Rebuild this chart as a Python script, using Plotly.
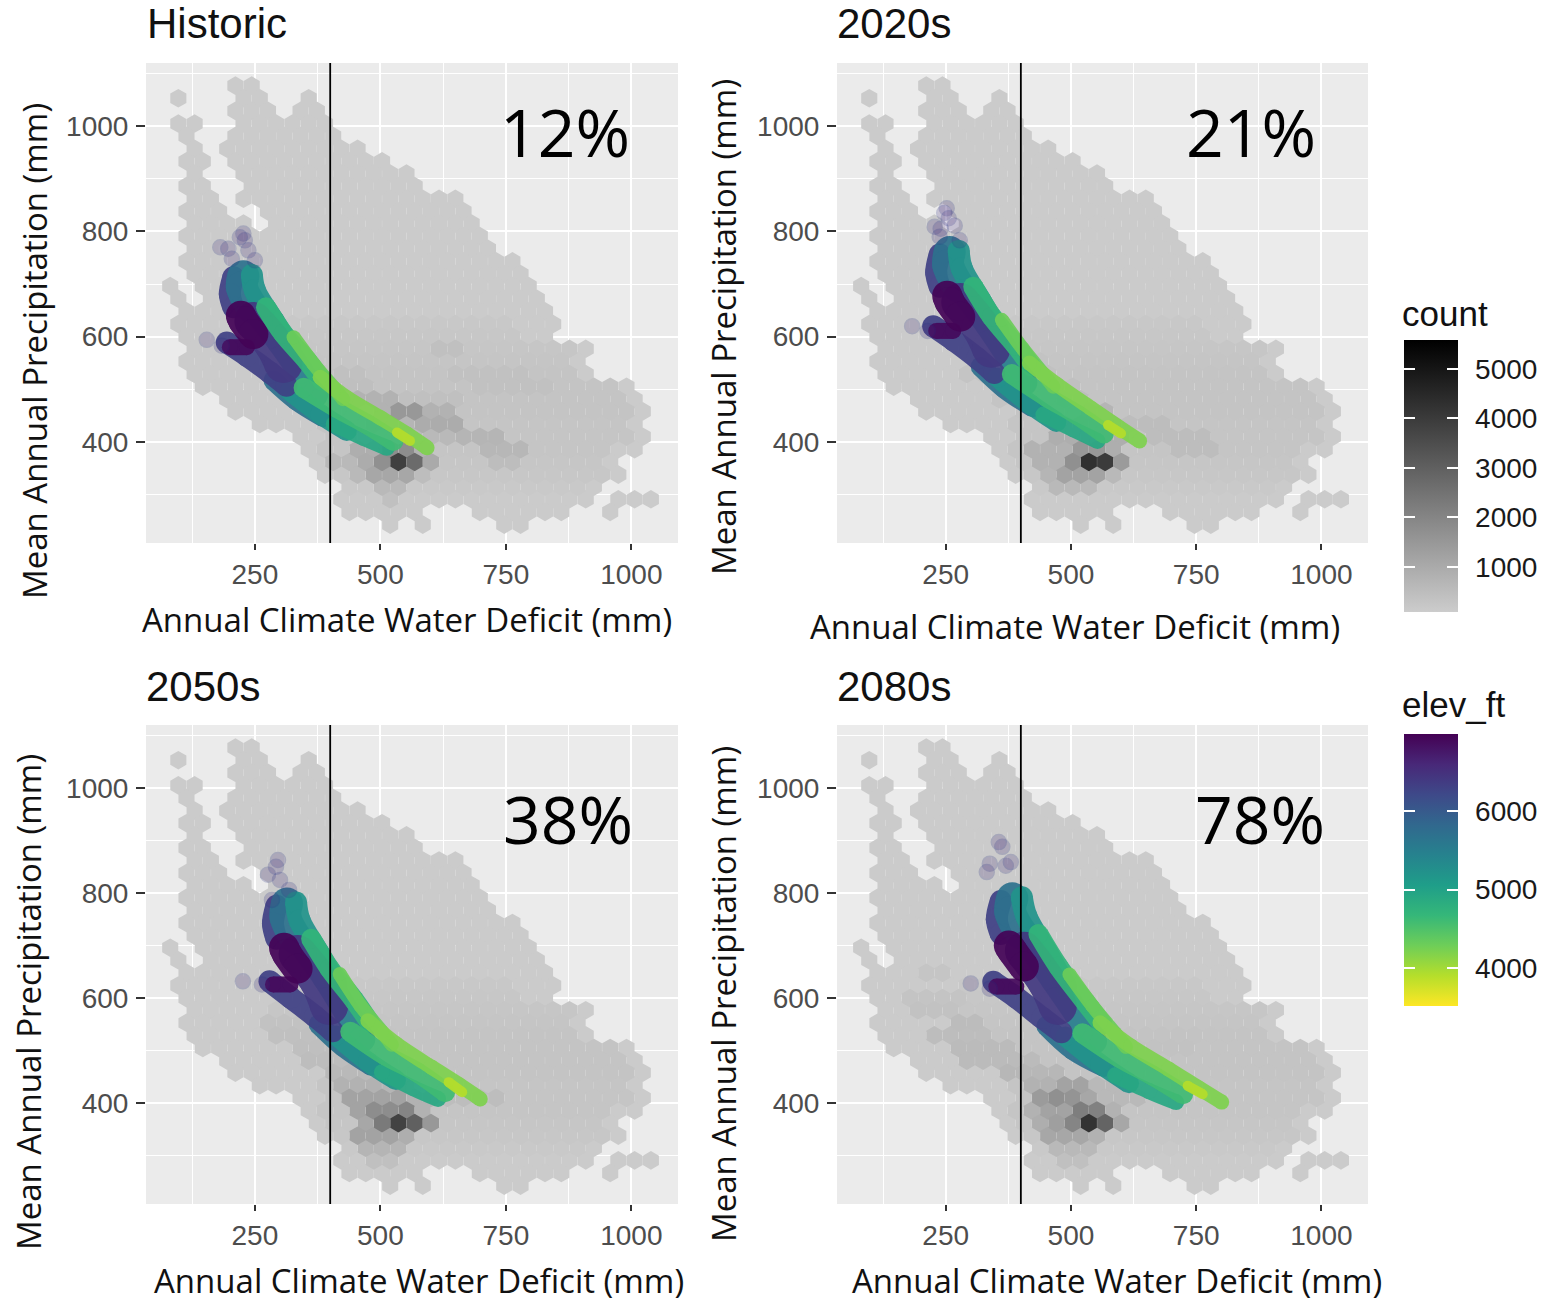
import plotly.graph_objects as go
from plotly.colors import sample_colorscale

W, H = 1565, 1303
X_TICKS = [250, 500, 750, 1000]
X_MINOR = [125, 375, 625, 875]
Y_TICKS = [400, 600, 800, 1000]
Y_MINOR = [300, 500, 700, 900, 1100]
CUTOFF = 400
PANEL_TITLES = ["Historic", "2020s", "2050s", "2080s"]
PERCENTS = ["12%", "21%", "38%", "78%"]
X_TITLE = "Annual Climate Water Deficit (mm)"
Y_TITLE = "Mean Annual Precipitation (mm)"
COUNT_TICKS = [1000, 2000, 3000, 4000, 5000]
ELEV_TICKS = [4000, 5000, 6000]

# Hexbin rows: y of the row and the runs of occupied columns
HEX_ROW_Y = [1077, 1053, 1029, 1005, 981, 957, 933, 910, 886, 862, 838, 815, 791, 767, 743, 719, 696, 672,
             648, 624, 600, 577, 553, 529, 505, 481, 458, 434, 410, 386, 362, 338, 315, 291, 267, 243]
HEX_RUNS = [
    [[3, 4]], [[0, 0], [4, 5], [8, 8]], [[3, 5], [7, 8]], [[0, 1], [4, 9]], [[0, 0], [3, 9]], [[1, 1], [3, 11]],
    [[0, 1], [3, 12]], [[1, 1], [4, 14]], [[0, 1], [4, 14]], [[1, 2], [4, 17]], [[0, 2], [5, 17]],
    [[1, 4], [6, 18]], [[0, 18]], [[1, 19]], [[0, 20]], [[1, 21]], [[-1, -1], [1, 21]], [[0, 0], [2, 22]],
    [[0, 22]], [[0, 23]], [[0, 22]], [[1, 25]], [[0, 24]], [[1, 25]], [[1, 27]], [[3, 28]], [[3, 28]],
    [[5, 28]], [[7, 28]], [[8, 28]], [[8, 26]], [[9, 27]], [[10, 25]], [[10, 25], [27, 29]],
    [[10, 14], [18, 23], [26, 26]], [[13, 13], [15, 15], [20, 21]],
]
HEX_DX = 32.47
HEX_X0_ODD = 97.4
HEX_X0_EVEN = 113.7
BASE_COUNT = 110
# (row, first column, last column, count)
COMMON_COUNTS = [(19, 6, 20, 200), (20, 6, 20, 220), (21, 6, 24, 250), (22, 6, 23, 280), (23, 6, 24, 300),
                 (24, 8, 26, 300), (25, 8, 27, 300), (26, 9, 27, 300), (27, 9, 27, 280), (28, 9, 27, 280),
                 (29, 9, 26, 280), (30, 9, 25, 250), (31, 10, 26, 220), (32, 10, 24, 180)]
COUNTS_HIST = [(21, 16, 17, 420), (23, 10, 11, 420), (24, 9, 11, 450), (23, 17, 21, 380), (24, 18, 22, 380),
               (25, 11, 13, 800), (25, 14, 17, 400), (26, 13, 14, 1500), (26, 12, 12, 800), (26, 15, 16, 800),
               (27, 15, 17, 950), (27, 12, 14, 700), (28, 14, 16, 600), (28, 17, 19, 700), (29, 19, 21, 650),
               (30, 19, 20, 500), (29, 11, 12, 900), (29, 13, 14, 1800), (29, 15, 15, 800), (30, 9, 10, 600),
               (30, 11, 11, 950), (30, 12, 12, 1700), (30, 13, 13, 3900), (30, 14, 14, 2700), (30, 15, 15, 1000),
               (31, 11, 11, 600), (31, 12, 14, 1100), (31, 15, 15, 500), (32, 12, 13, 600), (33, 13, 13, 400)]
COUNTS_2020 = [(26, 13, 14, 700), (25, 12, 13, 500), (27, 12, 15, 800), (27, 16, 18, 500), (28, 11, 15, 900),
               (28, 17, 20, 500), (29, 10, 12, 800), (29, 13, 14, 1500), (29, 15, 15, 900), (29, 19, 21, 500),
               (30, 10, 11, 800), (30, 12, 12, 1700), (30, 13, 13, 4300), (30, 14, 14, 4000), (30, 15, 15, 1400),
               (31, 11, 11, 700), (31, 12, 14, 1200), (31, 15, 15, 600), (32, 11, 13, 600), (24, 8, 12, 400),
               (23, 9, 11, 380), (22, 8, 10, 320)]
COUNTS_2050 = [(30, 13, 13, 3800), (30, 14, 14, 3000), (30, 12, 12, 2300), (30, 15, 15, 1500), (30, 11, 11, 1100),
               (29, 12, 13, 1800), (29, 14, 14, 2000), (29, 11, 11, 1200), (29, 15, 15, 800), (28, 10, 13, 1200),
               (28, 14, 15, 800), (27, 10, 12, 800), (27, 13, 14, 700), (31, 11, 13, 1200), (31, 14, 14, 900),
               (32, 11, 13, 700), (33, 12, 13, 400), (26, 9, 12, 600), (25, 8, 11, 500), (24, 7, 10, 450),
               (23, 6, 9, 400), (22, 5, 7, 350), (28, 16, 19, 500)]
COUNTS_2080 = [(30, 13, 13, 4200), (30, 14, 14, 2900), (30, 12, 12, 2000), (30, 11, 11, 1300), (30, 10, 10, 900),
               (30, 15, 15, 1100), (29, 13, 13, 2200), (29, 14, 14, 2100), (29, 11, 12, 1200), (29, 10, 10, 800),
               (29, 15, 15, 800), (28, 11, 11, 1700), (28, 10, 10, 1400), (28, 12, 12, 1600), (28, 13, 13, 1100),
               (27, 12, 13, 1200), (27, 10, 11, 800), (26, 8, 11, 650), (25, 6, 10, 550), (24, 5, 8, 550),
               (23, 4, 7, 500), (22, 5, 6, 520), (21, 3, 5, 350), (20, 2, 5, 300), (18, 3, 4, 280),
               (31, 11, 13, 1100), (31, 14, 14, 800), (32, 11, 13, 600), (33, 12, 13, 400), (27, 14, 15, 600),
               (28, 14, 16, 600), (24, 15, 19, 350), (23, 15, 20, 320)]

# Point cloud, one strand per elevation group
STRAND_ELEV = [5500, 5700, 5200, 4900, 6300, 5700, 5200, 6300, 6400, 6900, 6950, 4700, 4600, 4300, 4200, 3900]
HIST_X = [[260, 300, 340, 370], [287, 333, 387], [320, 380, 433], [407, 466, 513], [207, 200, 207], [227, 224, 244],
          [244, 250, 287, 320], [194, 234, 280, 313], [247, 287, 307], [200, 234], [222, 227, 247],
          [272, 307, 354, 384], [347, 413, 473, 526], [327, 367, 407, 426], [380, 433, 500, 553, 593], [533, 559]]
HIST_Y = [[640, 590, 535, 490], [517, 479, 447], [497, 453, 421], [434, 408, 389], [713, 681, 656], [715, 694, 656],
          [717, 688, 630, 580], [589, 564, 532, 507], [630, 586, 548], [580, 580], [640, 630, 605],
          [656, 605, 554, 516], [503, 465, 434, 402], [599, 548, 503, 481], [523, 484, 446, 415, 389], [418, 402]]
Y2020_X = [[293, 335, 376, 407], [320, 368, 424], [354, 417, 471], [445, 505, 553], [238, 231, 238], [258, 255, 276],
           [276, 282, 321, 355], [225, 266, 313, 347], [279, 320, 341], [231, 265], [253, 258, 279],
           [305, 342, 390, 421], [382, 451, 512, 566], [362, 404, 445, 465], [417, 472, 540, 594, 637], [574, 600]]
Y2020_Y = [[677, 622, 563, 513], [543, 501, 466], [522, 473, 438], [452, 424, 402], [756, 722, 695], [761, 736, 695],
           [763, 730, 666, 611], [620, 593, 559, 531], [666, 618, 577], [611, 611], [678, 666, 638],
           [695, 638, 583, 543], [529, 486, 452, 416], [632, 577, 529, 505], [550, 509, 464, 429, 402], [432, 416]]
Y2050_X = [[349, 391, 433, 464], [377, 426, 482], [412, 475, 531], [503, 565, 615], [293, 286, 293], [314, 311, 332],
           [332, 339, 378, 412], [279, 321, 370, 405], [335, 377, 398], [286, 321], [308, 314, 335],
           [362, 399, 448, 479], [440, 510, 573, 629], [419, 461, 503, 523], [475, 531, 601, 657, 699], [636, 663]]
Y2050_Y = [[695, 638, 573, 522], [550, 507, 471], [529, 479, 444], [459, 429, 408], [776, 742, 713], [780, 754, 713],
           [782, 748, 684, 626], [632, 601, 565, 537], [684, 633, 585], [626, 626], [696, 684, 656],
           [713, 656, 596, 553], [536, 491, 459, 421], [646, 585, 536, 511], [557, 513, 469, 435, 408], [440, 421]]
Y2080_X = [[421, 466, 512, 546], [451, 504, 566], [489, 558, 616], [588, 656, 710], [360, 352, 360], [383, 379, 402],
           [402, 411, 452, 490], [345, 391, 443, 481], [406, 451, 474], [351, 391], [376, 383, 406],
           [435, 475, 529, 563], [523, 596, 664, 724], [497, 543, 588, 610], [558, 619, 695, 755, 801], [733, 763]]
Y2080_Y = [[698, 634, 570, 518], [547, 501, 469], [527, 475, 438], [453, 423, 402], [785, 750, 722], [790, 764, 722],
           [792, 756, 687, 622], [631, 601, 562, 535], [690, 632, 585], [622, 622], [700, 690, 660],
           [722, 660, 592, 550], [533, 487, 452, 417], [645, 585, 533, 507], [553, 509, 465, 429, 402], [433, 417]]

# Sparse, single points at the tips of the cloud
SPARSE_HIST_X = [227, 230, 220, 181, 197, 237, 204, 250, 154, 184]
SPARSE_HIST_Y = [796, 783, 789, 770, 767, 764, 748, 745, 594, 583]
SPARSE_2020_X = [252, 247, 256, 228, 240, 268, 238, 278, 183, 214]
SPARSE_2020_Y = [844, 835, 825, 809, 805, 811, 790, 783, 620, 611]
SPARSE_2050_X = [296, 276, 300, 318, 284, 226, 264, 292]
SPARSE_2050_Y = [863, 835, 825, 806, 787, 632, 626, 850]
SPARSE_2080_X = [363, 356, 338, 370, 380, 332, 300, 338]
SPARSE_2080_Y = [888, 897, 856, 852, 859, 840, 628, 618]
SPARSE_ELEV = 6500

ELEV_RANGE = (3516, 6981)
COUNT_RANGE = (90, 5585)

# ---- layout (pixel geometry) ----
PANELS = [(146, 678, 63, 543), (837, 1368, 63, 543), (146, 678, 725, 1204), (837, 1368, 725, 1204)]
X_RANGE = [33, 1093]
Y_RANGE = [208, 1120]
STRAND_WIDTH = [26, 20, 20, 16, 22, 32, 22, 22, 38, 16, 30, 20, 20, 14, 15, 10]
TICK_FONT = dict(family="Liberation Sans", size=28, color="#4d4d4d")
LABEL_FAMILY = "Open Sans"
CLEAR = [[0, "rgba(0,0,0,0)"], [1, "rgba(0,0,0,0)"]]


def px(x):
    return x / W


def py(y):
    return 1 - y / H


def cell_counts(overrides):
    cells = {}
    for k, runs in enumerate(HEX_RUNS):
        for a, b in runs:
            for j in range(a, b + 1):
                cells[(k, j)] = BASE_COUNT
    for table in (COMMON_COUNTS, overrides):
        for k, a, b, c in table:
            for j in range(a, b + 1):
                if (k, j) in cells:
                    cells[(k, j)] = c
    return cells


def main_bar(top, ticks):
    # transparent outside ticks push the labels clear of the bar
    return dict(x=px(1404), xanchor="left", xpad=0, y=py(top), yanchor="top", ypad=0, lenmode="pixels", len=272,
                thicknessmode="pixels", thickness=54, outlinewidth=0, tickmode="array", tickvals=ticks,
                ticks="outside", ticklen=12, tickwidth=1, tickcolor="rgba(0,0,0,0)",
                tickfont=dict(family="Liberation Sans", size=28, color="#1a1a1a"))


def tick_bar(left, top, ticks):
    # clear overlay bar that carries the white tick marks on one side of the colour bar
    return dict(x=px(left), xanchor="left", xpad=0, y=py(top), yanchor="top", ypad=0, lenmode="pixels", len=272,
                thicknessmode="pixels", thickness=11, outlinewidth=0, tickmode="array", tickvals=ticks,
                ticks="inside", ticklen=11, tickwidth=1.5, tickcolor="white", showticklabels=False)


fig = go.Figure()
layout = dict(width=W, height=H, margin=dict(l=0, r=0, t=0, b=0), paper_bgcolor="white",
              showlegend=False, hovermode="closest")
annotations = []
shapes = []

COUNT_TABLES = [COUNTS_HIST, COUNTS_2020, COUNTS_2050, COUNTS_2080]
STRAND_X = [HIST_X, Y2020_X, Y2050_X, Y2080_X]
STRAND_Y = [HIST_Y, Y2020_Y, Y2050_Y, Y2080_Y]
SPARSE_X = [SPARSE_HIST_X, SPARSE_2020_X, SPARSE_2050_X, SPARSE_2080_X]
SPARSE_Y = [SPARSE_HIST_Y, SPARSE_2020_Y, SPARSE_2050_Y, SPARSE_2080_Y]
X_TITLE_POS = [(407, 619), (1075, 626), (419, 1280), (1117, 1280)]
Y_TITLE_POS = [(34, 351), (723, 327), (28, 1002), (723, 994)]
PANEL_TITLE_POS = [(145, 24), (835, 24), (144, 686), (835, 686)]
PERCENT_POS = [(565, 131), (1251, 131), (568, 818), (1260, 818)]

for p, (x0, x1, y0, y1) in enumerate(PANELS):
    suffix = "" if p == 0 else str(p + 1)
    xa, ya = "x" + suffix, "y" + suffix
    layout["xaxis" + suffix] = dict(
        domain=[px(x0), px(x1)], range=X_RANGE, anchor=ya, tickmode="array", tickvals=X_TICKS,
        ticktext=[str(v) for v in X_TICKS], ticks="outside", ticklen=6, tickwidth=1.5, tickcolor="#333333",
        tickfont=TICK_FONT, ticklabelstandoff=0, showgrid=True, gridcolor="white", gridwidth=1.8, zeroline=False,
        showline=False, minor=dict(tickvals=X_MINOR, showgrid=True, gridcolor="white", gridwidth=1, ticks=""))
    layout["yaxis" + suffix] = dict(
        domain=[py(y1), py(y0)], range=Y_RANGE, anchor=xa, tickmode="array", tickvals=Y_TICKS,
        ticktext=[str(v) for v in Y_TICKS], ticks="outside", ticklen=9, tickwidth=1.5, tickcolor="#333333",
        tickfont=TICK_FONT, ticklabelstandoff=2, showgrid=True, gridcolor="white", gridwidth=1.8, zeroline=False,
        showline=False, minor=dict(tickvals=Y_MINOR, showgrid=True, gridcolor="white", gridwidth=1.3, ticks=""))
    shapes.append(dict(type="rect", xref="paper", yref="paper", x0=px(x0), x1=px(x1), y0=py(y1), y1=py(y0),
                       fillcolor="#ebebeb", line_width=0, layer="below"))

    cells = cell_counts(COUNT_TABLES[p])
    ordered = sorted(cells.items(), key=lambda item: item[1])
    hx, hy, hc = [], [], []
    for (k, j), c in ordered:
        hx.append((HEX_X0_ODD if k % 2 else HEX_X0_EVEN) + HEX_DX * j)
        hy.append(HEX_ROW_Y[k])
        hc.append(c)
    marker = dict(symbol="hexagon", size=18.6, color=hc, cmin=COUNT_RANGE[0], cmax=COUNT_RANGE[1],
                  colorscale=[[0, "#cccccc"], [1, "#000000"]], line_width=0)
    if p == 0:
        marker.update(showscale=True, colorbar=main_bar(340, COUNT_TICKS))
    fig.add_trace(go.Scatter(x=hx, y=hy, mode="markers", marker=marker, xaxis=xa, yaxis=ya, name="count"))

    for s, elev in enumerate(STRAND_ELEV):
        t = (elev - ELEV_RANGE[0]) / (ELEV_RANGE[1] - ELEV_RANGE[0])
        colour = sample_colorscale("Viridis_r", [t])[0]
        w = STRAND_WIDTH[s]
        fig.add_trace(go.Scatter(x=STRAND_X[p][s], y=STRAND_Y[p][s], mode="lines+markers", opacity=0.92,
                                 line=dict(color=colour, width=w, shape="spline"),
                                 marker=dict(color=colour, size=w, line_width=0),
                                 xaxis=xa, yaxis=ya, name=f"{elev} ft"))

    sparse = dict(symbol="circle", size=15, color=[SPARSE_ELEV] * len(SPARSE_X[p]), cmin=ELEV_RANGE[0],
                  cmax=ELEV_RANGE[1], colorscale="Viridis_r", opacity=0.22,
                  line=dict(color="#2a2e80", width=1.5))
    if p == 0:
        sparse.update(showscale=True, colorbar=main_bar(734, ELEV_TICKS))
    fig.add_trace(go.Scatter(x=SPARSE_X[p], y=SPARSE_Y[p], mode="markers", marker=sparse, xaxis=xa, yaxis=ya))

    shapes.append(dict(type="line", xref=xa, yref=ya + " domain", x0=CUTOFF, x1=CUTOFF, y0=0, y1=1,
                       line=dict(color="black", width=1.8)))

    annotations.append(dict(text=PANEL_TITLES[p], x=px(PANEL_TITLE_POS[p][0]), y=py(PANEL_TITLE_POS[p][1]),
                            xref="paper", yref="paper", xanchor="left", yanchor="middle", showarrow=False,
                            font=dict(family="Liberation Sans", size=42, color="#111111")))
    annotations.append(dict(text=PERCENTS[p], x=px(PERCENT_POS[p][0]), y=py(PERCENT_POS[p][1]),
                            xref="paper", yref="paper", xanchor="center", yanchor="middle", showarrow=False,
                            font=dict(family=LABEL_FAMILY, size=66, color="black")))
    annotations.append(dict(text=X_TITLE, x=px(X_TITLE_POS[p][0]), y=py(X_TITLE_POS[p][1]),
                            xref="paper", yref="paper", xanchor="center", yanchor="middle", showarrow=False,
                            font=dict(family=LABEL_FAMILY, size=33, color="#111111")))
    annotations.append(dict(text=Y_TITLE, x=px(Y_TITLE_POS[p][0]), y=py(Y_TITLE_POS[p][1]), textangle=-90,
                            xref="paper", yref="paper", xanchor="center", yanchor="middle", showarrow=False,
                            font=dict(family=LABEL_FAMILY, size=33, color="#111111")))

# White tick marks on both sides of the two colour bars
for top, ticks, rng in ((340, COUNT_TICKS, COUNT_RANGE), (734, ELEV_TICKS, ELEV_RANGE)):
    for left in (1404, 1447):
        fig.add_trace(go.Scatter(x=[CUTOFF], y=[Y_TICKS[0]], mode="markers", hoverinfo="skip",
                                 marker=dict(opacity=0, color=[ticks[0]], cmin=rng[0], cmax=rng[1], colorscale=CLEAR,
                                             showscale=True, colorbar=tick_bar(left, top, ticks)),
                                 xaxis="x", yaxis="y"))

for text, yy in (("count", 313), ("elev_ft", 704)):
    annotations.append(dict(text=text, x=px(1400), y=py(yy), xref="paper", yref="paper", xanchor="left",
                            yanchor="middle", showarrow=False,
                            font=dict(family="Liberation Sans", size=35, color="#111111")))

layout["annotations"] = annotations
layout["shapes"] = shapes
fig.update_layout(**layout)
fig.write_html("out.html", config={"displayModeBar": False}, post_script="document.body.style.margin='0';")
